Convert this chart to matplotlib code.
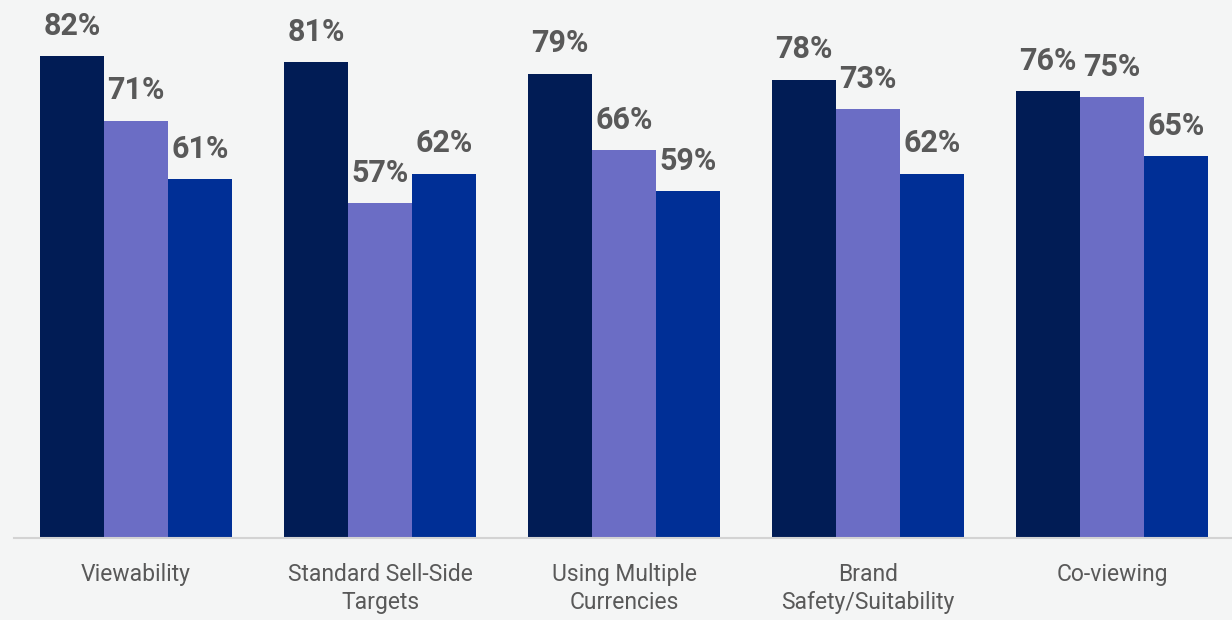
import numpy as np
import matplotlib.pyplot as plt

plt.rcParams['font.family'] = ['Roboto', 'DejaVu Sans']

categories = ["Viewability", "Standard Sell-Side\nTargets", "Using Multiple\nCurrencies",
              "Brand\nSafety/Suitability", "Co-viewing"]
serie_1 = [82, 81, 79, 78, 76]
serie_2 = [71, 57, 66, 73, 75]
serie_3 = [61, 62, 59, 62, 65]

colores = ["#011c55", "#6b6dc5", "#002f96"]
fondo = "#f4f5f5"

fig = plt.figure(figsize=(12.32, 6.2), dpi=100, facecolor=fondo)
ax = fig.add_axes([14 / 1232, 82 / 620, 1220 / 1232, 538 / 620])
ax.set_facecolor(fondo)

x = np.arange(len(categories))
ancho = 64 / 244

for k, serie in enumerate([serie_1, serie_2, serie_3]):
    barras = ax.bar(x + (k - 1) * ancho, serie, width=ancho, color=colores[k])
    for b, v in zip(barras, serie):
        ax.annotate(f"{v}%", xy=(b.get_x() + b.get_width() / 2, v),
                    xytext=(0, 11), textcoords="offset points",
                    ha="center", va="bottom", fontsize=22, fontweight="bold",
                    color="#595959")

ax.set_xlim(-0.5, 4.5)
ax.set_ylim(0, 538 / 5.878)

ax.set_xticks(x)
ax.set_xticklabels(categories, fontsize=16.5, color="#595959", linespacing=1.3)
ax.tick_params(axis="x", length=0, pad=18)
ax.set_yticks([])

for lado in ["top", "right", "left"]:
    ax.spines[lado].set_visible(False)
ax.spines["bottom"].set_color("#d3d3d3")
ax.spines["bottom"].set_linewidth(1.5)

plt.savefig("out.png", dpi=100, facecolor=fondo)
